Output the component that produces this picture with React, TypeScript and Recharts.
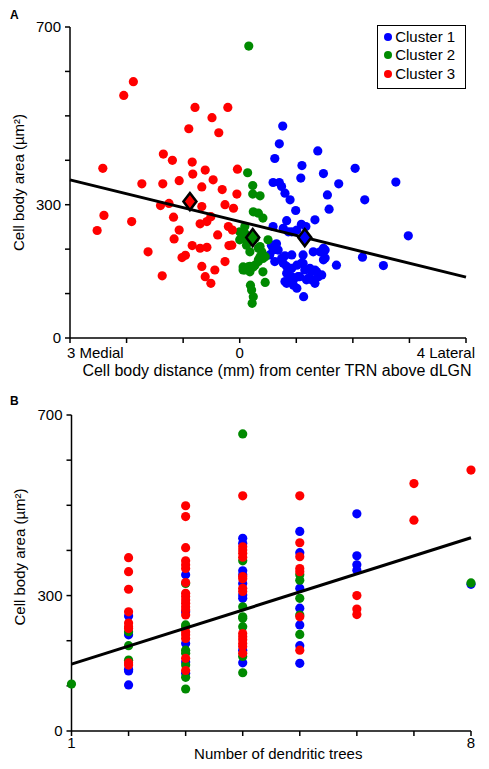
import { ScatterChart, Scatter, XAxis, YAxis, Label } from 'recharts';

const FONT = '"Liberation Sans", Arial, Helvetica, sans-serif';
const BLUE = '#0000ff';
const GREEN = '#008a00';
const RED = '#ff0000';

// shared y axis: cell body area (um^2)
const areaTicks = [0, 100, 200, 300, 400, 500, 600, 700];
const areaLabelled = [0, 300, 700];

// ---- Panel A: distance from center TRN (medial negative) vs area ----
const distanceTicks = [-3, -2, -1, 0, 1, 2, 3, 4];
const distanceNames: Record<string, string> = { '-3': '3 Medial', '0': '0', '4': '4 Lateral' };

const cluster1A: [number, number][] = [
  [0.76, 477], [0.7, 437], [0.62, 404], [1.38, 421], [1.1, 388], [1.08, 360], [1.48, 370],
  [2.04, 382], [1.75, 347], [2.76, 351], [0.59, 350], [0.7, 350], [0.74, 341], [0.8, 326],
  [1.55, 322], [2.21, 311], [0.89, 311], [1.58, 290], [0.99, 287], [1.33, 266], [0.83, 264],
  [1.09, 256], [1.17, 251], [0.59, 251], [0.77, 247], [0.86, 239], [2.98, 230], [0.56, 209],
  [0.59, 198], [0.68, 198], [0.74, 179], [0.92, 187], [1.12, 187], [1.3, 194], [1.42, 194],
  [1.51, 198], [1.48, 176], [1.71, 164], [2.17, 182], [2.54, 163], [0.83, 161], [0.92, 157],
  [1.01, 164], [1.09, 168], [1.15, 153], [1.27, 149], [1.33, 153], [1.39, 138], [0.89, 138],
  [0.8, 127], [0.95, 131], [1.06, 138], [1.21, 134], [1.27, 131], [1.33, 123], [1.01, 112],
  [1.13, 93], [0.92, 239], [1.01, 243], [0.65, 212], [0.53, 187], [0.8, 185], [1.48, 202],
  [1.51, 180], [0.62, 172], [0.77, 168], [1.12, 168], [1.24, 157], [1.36, 149], [1.45, 142],
  [0.83, 146], [0.92, 138], [1.03, 138], [1.18, 131], [0.83, 123], [0.95, 119],
];

const cluster2A: [number, number][] = [
  [0.16, 657], [0.14, 372], [0.23, 343], [0.23, 324], [0.36, 320], [0.24, 284], [0.33, 281],
  [0.41, 270], [0.0, 239], [0.09, 236], [0.06, 224], [0.15, 217], [0.5, 221], [0.36, 206],
  [0.18, 194], [0.41, 179], [0.33, 172], [0.27, 164], [0.18, 161], [0.09, 157], [0.06, 153],
  [0.41, 149], [0.45, 125], [0.19, 119], [0.21, 108], [0.24, 93], [0.22, 78], [0.03, 236],
  [0.09, 251], [0.0, 221], [0.12, 209], [0.27, 224], [0.33, 202], [0.39, 194], [0.06, 160],
  [0.15, 160], [0.24, 160], [0.09, 153], [0.18, 149], [0.33, 176], [0.36, 183], [0.45, 183],
];

const cluster3A: [number, number][] = [
  [-2.42, 382], [-2.05, 546], [-1.88, 577], [-0.79, 519], [-0.21, 519], [-0.49, 496],
  [-0.9, 471], [-0.37, 462], [-1.35, 414], [-1.19, 400], [-0.84, 396], [-0.83, 369],
  [-0.61, 378], [-0.04, 380], [-1.73, 347], [-1.36, 347], [-1.07, 354], [-0.67, 340],
  [-0.47, 356], [-0.31, 334], [-0.05, 324], [-2.52, 242], [-2.4, 276], [-1.91, 262],
  [-1.62, 194], [-1.37, 140], [-1.4, 298], [-1.25, 303], [-1.17, 272], [-1.07, 243],
  [-1.16, 223], [-0.84, 208], [-1.02, 181], [-0.96, 186], [-0.7, 202], [-0.58, 204],
  [-0.67, 161], [-0.61, 138], [-0.51, 123], [-0.44, 153], [-0.26, 172], [-0.19, 208],
  [-0.39, 232], [-0.7, 257], [-0.58, 262], [-0.51, 273], [-0.67, 296], [-0.26, 300],
  [-0.11, 292], [-0.2, 251], [-0.13, 243], [-0.14, 209],
];

const centroid1A: [number, number][] = [[1.15, 226]];
const centroid2A: [number, number][] = [[0.23, 226]];
const centroid3A: [number, number][] = [[-0.88, 307]];
const fitA: [number, number][] = [[-3, 356], [4, 137]];

// ---- Panel B: number of dendritic trees vs area ----
const treeTicks = [1, 2, 3, 4, 5, 6, 7, 8];
const treeLabelled = [1, 8];

const cluster1B: [number, number][] = [
  [2, 255], [2, 213], [2, 137], [2, 133], [2, 102],
  [3, 346], [3, 264], [3, 194], [3, 153], [3, 128],
  [4, 427], [4, 416], [4, 355], [4, 346], [4, 327], [4, 301], [4, 294], [4, 179], [4, 151],
  [5, 442], [5, 395], [5, 316], [5, 272], [5, 235], [5, 189], [5, 150],
  [6, 481], [6, 388], [6, 368], [6, 356],
  [8, 325],
];

const cluster2B: [number, number][] = [
  [1, 104],
  [2, 220], [2, 189], [2, 157],
  [3, 327], [3, 235], [3, 231], [3, 179], [3, 172], [3, 146], [3, 119], [3, 93],
  [4, 658], [4, 377], [4, 275], [4, 253], [4, 250], [4, 231], [4, 165], [4, 129],
  [5, 346], [5, 334], [5, 294], [5, 257], [5, 214],
  [8, 328],
];

const cluster3B: [number, number][] = [
  [2, 384], [2, 353], [2, 314], [2, 264], [2, 239], [2, 231], [2, 227], [2, 151], [2, 146],
  [3, 499], [3, 475], [3, 406], [3, 377], [3, 368], [3, 360], [3, 329], [3, 305], [3, 298],
  [3, 290], [3, 283], [3, 275], [3, 268], [3, 257], [3, 220], [3, 213], [3, 205], [3, 161], [3, 134],
  [4, 521], [4, 408], [4, 401], [4, 394], [4, 385], [4, 342], [4, 337], [4, 316], [4, 309],
  [4, 216], [4, 209], [4, 202], [4, 194], [4, 187], [4, 172],
  [5, 521], [5, 417], [5, 386], [5, 360], [5, 353], [5, 253], [5, 179],
  [6, 300], [6, 270], [6, 258],
  [7, 548], [7, 467],
  [8, 578],
];

const fitB: [number, number][] = [[1, 148], [8, 428]];

const legendItems = [
  { name: 'Cluster 1', color: BLUE },
  { name: 'Cluster 2', color: GREEN },
  { name: 'Cluster 3', color: RED },
];

const pts = (arr: [number, number][]) => arr.map(([x, y]) => ({ x, y }));

const dot = (color: string) => (props: any) => (
  <circle cx={props.cx} cy={props.cy} r={4.6} fill={color} />
);

const diamond = (color: string) => (props: any) => {
  const { cx, cy } = props;
  return (
    <polygon
      points={`${cx},${cy - 8.5} ${cx + 6.5},${cy} ${cx},${cy + 8.5} ${cx - 6.5},${cy}`}
      fill={color}
      stroke="#000"
      strokeWidth={2.5}
      strokeLinejoin="miter"
    />
  );
};

const noDot = () => <g />;

const axisStroke = { stroke: '#000', strokeWidth: 1.5 };

const DistanceTick = (props: any) => {
  const { x, y, payload } = props;
  const v = payload.value;
  const text = distanceNames[String(v)];
  if (!text) return <g />;
  const anchor = v < 0 ? 'start' : v > 0 ? 'end' : 'middle';
  const shift = v < 0 ? -3 : v > 0 ? 9 : 0;
  return (
    <text x={x + shift} y={y + 15} textAnchor={anchor} fontSize={15} fill="#000" fontFamily={FONT}>
      {text}
    </text>
  );
};

const TreeTick = (props: any) => {
  const { x, y, payload } = props;
  if (!treeLabelled.includes(payload.value)) return <g />;
  return (
    <text x={x} y={y + 12} textAnchor="middle" fontSize={15} fill="#000" fontFamily={FONT}>
      {payload.value}
    </text>
  );
};

const XTitle = ({ viewBox, text, dx, dy, size }: any) => {
  const { x, y, width } = viewBox;
  return (
    <text x={x + width / 2 + dx} y={y + dy} textAnchor="middle" fontSize={size} fill="#000" fontFamily={FONT}>
      {text}
    </text>
  );
};

const YTitle = ({ viewBox, shift }: any) => {
  const { x, y, height } = viewBox;
  const cx = x - 2;
  const cy = y + height / 2 + shift;
  return (
    <text
      x={cx}
      y={cy}
      transform={`rotate(-90 ${cx} ${cy})`}
      textAnchor="middle"
      dominantBaseline="central"
      fontSize={15}
      fill="#000"
      fontFamily={FONT}
    >
      Cell body area (µm²)
    </text>
  );
};

const areaAxis = (shift: number) => (
  <YAxis
    type="number"
    dataKey="y"
    domain={[0, 700]}
    ticks={areaTicks}
    interval={0}
    tickFormatter={(v) => (areaLabelled.includes(v) ? String(v) : '')}
    width={50}
    tickSize={5}
    tickMargin={4}
    axisLine={axisStroke}
    tickLine={axisStroke}
    tick={{ fill: '#000', fontSize: 15, fontFamily: FONT }}
  >
    <Label content={(p: any) => <YTitle {...p} shift={shift} />} />
  </YAxis>
);

const panelLabel = { position: 'absolute' as const, fontFamily: FONT, fontWeight: 700, fontSize: 12, lineHeight: '12px' };

export default function App() {
  return (
    <div style={{ position: 'absolute', left: 0, top: 0, width: 489, height: 769, background: '#fff' }}>
      <div style={{ ...panelLabel, left: 10, top: 9 }}>A</div>
      <div style={{ ...panelLabel, left: 10, top: 395 }}>B</div>

      <div style={{ position: 'absolute', left: 0, top: 0 }}>
        <ScatterChart width={489} height={380} margin={{ top: 27, right: 23, bottom: 20, left: 20 }}>
          <XAxis
            type="number"
            dataKey="x"
            domain={[-3, 4]}
            ticks={distanceTicks}
            interval={0}
            height={22}
            tickSize={5}
            tickMargin={0}
            axisLine={axisStroke}
            tickLine={axisStroke}
            tick={<DistanceTick />}
          >
            <Label
              content={(p: any) => (
                <XTitle {...p} text="Cell body distance (mm) from center TRN above dLGN" dx={9} dy={38} size={16} />
              )}
            />
          </XAxis>
          {areaAxis(0)}
          <Scatter data={pts(cluster1A)} shape={dot(BLUE)} isAnimationActive={false} />
          <Scatter data={pts(cluster2A)} shape={dot(GREEN)} isAnimationActive={false} />
          <Scatter data={pts(cluster3A)} shape={dot(RED)} isAnimationActive={false} />
          <Scatter data={pts(fitA)} shape={noDot} line={{ stroke: '#000', strokeWidth: 3 }} isAnimationActive={false} />
          <Scatter data={pts(centroid3A)} shape={diamond(RED)} isAnimationActive={false} />
          <Scatter data={pts(centroid2A)} shape={diamond(GREEN)} isAnimationActive={false} />
          <Scatter data={pts(centroid1A)} shape={diamond(BLUE)} isAnimationActive={false} />
        </ScatterChart>
      </div>

      <div
        style={{
          position: 'absolute',
          left: 377,
          top: 25,
          width: 87,
          height: 60,
          border: '1.5px solid #000',
          fontFamily: FONT,
          fontSize: 15,
          paddingTop: 2,
          boxSizing: 'content-box',
          background: '#fff',
        }}
      >
        {legendItems.map((it) => (
          <div key={it.name} style={{ display: 'flex', alignItems: 'center', height: 18.3, lineHeight: '18px' }}>
            <span
              style={{
                display: 'inline-block',
                width: 8,
                height: 8,
                borderRadius: '50%',
                background: it.color,
                marginLeft: 5.5,
                marginRight: 3.7,
              }}
            />
            <span>{it.name}</span>
          </div>
        ))}
      </div>

      <div style={{ position: 'absolute', left: 0, top: 385 }}>
        <ScatterChart width={489} height={384} margin={{ top: 30, right: 18, bottom: 16, left: 21.5 }}>
          <XAxis
            type="number"
            dataKey="x"
            domain={[1, 8]}
            ticks={treeTicks}
            interval={0}
            height={22}
            tickSize={5}
            tickMargin={0}
            axisLine={axisStroke}
            tickLine={axisStroke}
            tick={<TreeTick />}
          >
            <Label content={(p: any) => <XTitle {...p} text="Number of dendritic trees" dx={7} dy={28} size={15} />} />
          </XAxis>
          {areaAxis(-16)}
          <Scatter data={pts(cluster1B)} shape={dot(BLUE)} isAnimationActive={false} />
          <Scatter data={pts(cluster2B)} shape={dot(GREEN)} isAnimationActive={false} />
          <Scatter data={pts(cluster3B)} shape={dot(RED)} isAnimationActive={false} />
          <Scatter data={pts(fitB)} shape={noDot} line={{ stroke: '#000', strokeWidth: 3 }} isAnimationActive={false} />
        </ScatterChart>
      </div>
    </div>
  );
}
